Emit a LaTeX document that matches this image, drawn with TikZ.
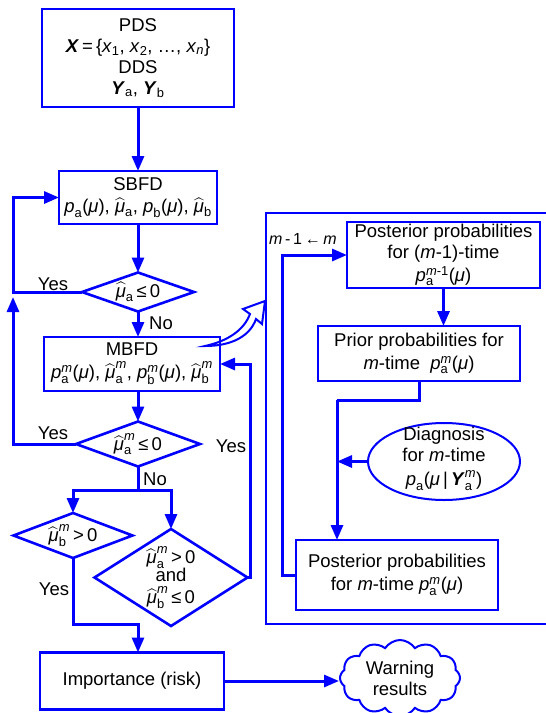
\documentclass[tikz,border=0pt]{standalone}
\usepackage{amsmath}
\usepackage{fontspec}
\setmainfont{Liberation Sans}
\usetikzlibrary{arrows.meta,shapes.geometric,shapes.symbols,calc}
\newcommand{\pvs}[1]{$\text{\textit{p}}_{\text{#1}}$}
\newcommand{\pvm}[2]{$\text{\textit{p}}_{\text{#1}}^{\text{\textit{#2}}}$}
\newcommand{\mh}[1]{$\widehat{\text{\textit{μ}}}_{\text{#1}}$}
\newcommand{\mhm}[1]{$\widehat{\text{\textit{μ}}}_{\text{#1}}^{\text{\textit{m}}}$}
\newcommand{\mut}{\textit{μ}}
\begin{document}
\begin{tikzpicture}[x=1pt,y=-1pt,font=\fontsize{18.5}{21}\selectfont]
\tikzset{
  box/.style={draw=blue, line width=2.6pt, inner sep=0pt, outer sep=0pt, align=center},
  dia/.style={diamond, draw=blue, line width=2.6pt, inner sep=0pt, outer sep=0pt},
  con/.style={draw=blue, line width=3pt},
  arr/.style={con, -{Triangle[length=15pt,width=12pt]}},
  lbl/.style={inner sep=0pt, align=center},
}
\useasboundingbox (0,0) rectangle (546,713);
% right panel
\draw[blue, line width=2pt] (266,213) rectangle (620,624);

% main column
\node[box, minimum width=192pt, minimum height=98pt] (top) at (138,58)
  {PDS\\ \textbf{\textit{X}}\,=\,\{\textit{x}\textsubscript{1}, \textit{x}\textsubscript{2}, \dots, \textit{x}\textsubscript{\textit{n}}\}\\ DDS\\ \textbf{\textit{Y}}\textsubscript{a}, \textbf{\textit{Y}}\textsubscript{b}};
\node[box, minimum width=158pt, minimum height=53pt] (sbfd) at (138,197.5)
  {SBFD\\[1pt] \pvs{a}(\mut), \mh{a}, \pvs{b}(\mut), \mh{b}};
\node[dia, minimum width=112pt, minimum height=39pt] (d1) at (138,292) {};
\node[lbl] (d1t) at (d1) {\mh{a}\,≤\,0};
\node[box, minimum width=176pt, minimum height=54pt] (mbfd) at (132,364)
  {MBFD\\[2pt] \pvm{a}{m}(\mut), \mhm{a}, \pvm{b}{m}(\mut), \mhm{b}};
\node[dia, minimum width=124pt, minimum height=45pt] (d2) at (138,444) {};
\node[lbl] (d2t) at (d2) {\mhm{a}\,≤\,0};
\node[dia, minimum width=119pt, minimum height=45pt] (d4) at (73,535.5) {};
\node[lbl] (d4t) at (d4) {\mhm{b}\,>\,0};
\node[dia, minimum width=153pt, minimum height=97pt] (d5) at (171,577.5) {};
\node[lbl] (d5t) at (d5) {\mhm{a}\,>\,0\\[-3pt] and\\[1pt] \mhm{b}\,≤\,0};
\node[box, minimum width=184pt, minimum height=57pt] (imp) at (132,681) {Importance (risk)};
\node[cloud, draw=blue, line width=2pt, cloud puffs=12, cloud puff arc=115, cloud ignores aspect,
      minimum width=120pt, minimum height=76pt, inner sep=0pt, align=center] (cl) at (400,678)
  {Warning\\ results};

% right panel content
\node[box, minimum width=193pt, minimum height=66pt] (p1) at (443.5,255)
  {Posterior probabilities\\ for (\textit{m}-1)-time\\[2pt] $\text{\textit{p}}_{\text{a}}^{\text{\textit{m}-1}}$(\mut)};
\node[box, minimum width=202pt, minimum height=55pt] (p2) at (419,353.5)
  {Prior probabilities for\\[2pt] \textit{m}-time\ \ \pvm{a}{m}(\mut)};
\node[ellipse, draw=blue, line width=2pt, inner sep=0pt, outer sep=0pt, minimum width=152pt, minimum height=77pt] (ell) at (444,461.5) {};
\node[lbl] (ellt) at (444,459) {Diagnosis\\ for \textit{m}-time\\[3pt] \pvs{a}(\mut\,|\,$\text{\textbf{\textit{Y}}}_{\text{a}}^{\text{\textit{m}}}$)};
\node[box, minimum width=202pt, minimum height=70pt] (p3) at (397,575)
  {Posterior probabilities\\[2pt] for \textit{m}-time \pvm{a}{m}(\mut)};
\node[lbl, font=\fontsize{16}{19}\selectfont] (mm) at (303,239) {\textit{m}\,-\,1\,←\,\textit{m}};

% labels
\node[lbl] (y1) at (53,284) {Yes};
\node[lbl] (n1) at (161,323) {No};
\node[lbl] (y2) at (53,433) {Yes};
\node[lbl] (n2) at (155,479) {No};
\node[lbl] (y3) at (231,446) {Yes};
\node[lbl] (y4) at (54,589) {Yes};

% helper coordinates
\coordinate (lx) at (13,0);
\coordinate (rx) at (250,0);
\coordinate (br) at (138,490);
\coordinate (ix) at (138,624);
\coordinate (jx) at (337,400);
\coordinate (lpx) at (282,0);

% connectors main
\draw[arr] (top.south) -- (sbfd.north);
\draw[arr] (sbfd.south) -- (d1.north);
\draw[arr] (d1.south) -- (d1.south |- mbfd.north);
\draw[arr] (d1.west) -- (d1.west -| lx) |- (sbfd.west);
\draw[arr] (d2.west) -- (d2.west -| lx) -- ($(lx |- d1.west)+(0,5)$);
\draw[arr] (d2.north |- mbfd.south) -- (d2.north);
\draw[con] (d2.south) -- (br);
\draw[arr] (br) -| (d4.north);
\draw[arr] (br) -| (d5.north);
\draw[arr] (d5.east) -- (d5.east -| rx) -- (rx |- mbfd.east) -- (mbfd.east);
\draw[arr] (d4.south) |- (ix) -- (ix |- imp.north);
\draw[arr] (imp.east) -- (imp.east -| cl.west);

% connectors panel
\draw[arr] (p1.south) -- (p1.south |- p2.north);
\draw[con] (p2.south) |- (jx);
\draw[arr] (jx) -- (jx |- p3.north);
\draw[arr] (ell.west) -- (ell.west -| jx);
\draw[arr] (p3.west) -- (p3.west -| lpx) -- (lpx |- p1.west) -- (p1.west);

% curved block arrow
\draw[blue, line width=2pt, line join=miter] (205,346) .. controls (228,341) and (244,330) .. (250,314)
  -- (243,309) -- (265,301) -- (262,324) -- (256,319) .. controls (250,336) and (232,346) .. cycle;
\end{tikzpicture}
\end{document}
